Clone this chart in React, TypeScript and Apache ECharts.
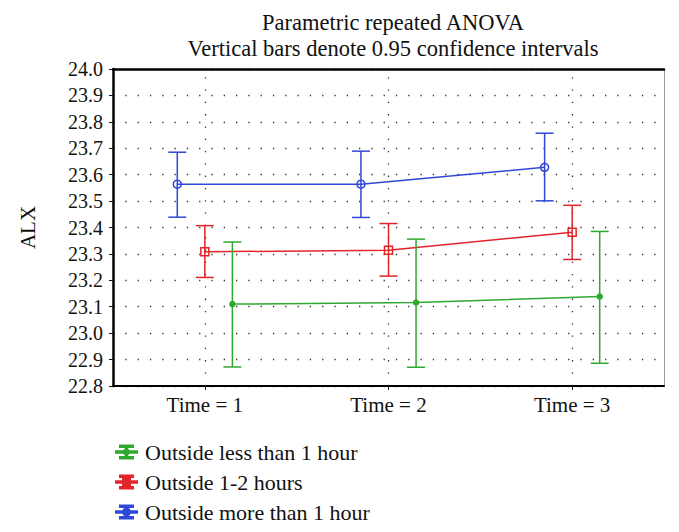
import React, { useEffect, useRef } from "react";
import * as echarts from "echarts";

const timeLabels = ["Time = 1", "Time = 2", "Time = 3"];

const seriesNames = [
  "Outside less than 1 hour",
  "Outside 1-2 hours",
  "Outside more than 1 hour",
];

const lessMean = [23.11, 23.116, 23.139];
const lessLow = [22.872, 22.871, 22.886];
const lessHigh = [23.345, 23.356, 23.385];

const midMean = [23.308, 23.314, 23.382];
const midLow = [23.211, 23.216, 23.279];
const midHigh = [23.407, 23.415, 23.484];

const moreMean = [23.564, 23.564, 23.628];
const moreLow = [23.439, 23.438, 23.501];
const moreHigh = [23.685, 23.689, 23.757];

const FONT = "Liberation Serif, serif";
const colors = ["#2ea82e", "#e3242b", "#3048d8"];
const offsets = [0.15, 0, -0.15];
const symbols = ["circle", "rect", "circle"];
const symbolSizes = [5, 8, 8];
const symbolFill = [true, false, false];

const bars = "M4 0H17V1.4H4Z M4 11.6H17V13H4Z M9.8 0H11.2V13H9.8Z M0 5.8H21V7.2H0Z";
const icons = [
  "path://" + bars + " M8 6.5A2.5 2.5 0 1 1 13 6.5A2.5 2.5 0 1 1 8 6.5Z",
  "path://" + bars + " M7 3H14V10H7Z M8.3 4.3V8.7H12.7V4.3Z",
  "path://" + bars + " M7 6.5A3.5 3.5 0 1 1 14 6.5A3.5 3.5 0 1 1 7 6.5Z M8.3 6.5A2.2 2.2 0 1 0 12.7 6.5A2.2 2.2 0 1 0 8.3 6.5Z",
];

export default function App() {
  const ref = useRef<HTMLDivElement>(null);
  useEffect(() => {
    if (!ref.current) return;
    const chart = echarts.init(ref.current, undefined, { renderer: "svg" });
    const means = [lessMean, midMean, moreMean];
    const lows = [lessLow, midLow, moreLow];
    const highs = [lessHigh, midHigh, moreHigh];

    const lineSeries: any[] = seriesNames.map((name, s) => ({
      name,
      type: "line",
      xAxisIndex: 1,
      yAxisIndex: 0,
      data: means[s].map((v, i) => [i + offsets[s], v]),
      symbol: symbols[s],
      symbolSize: symbolSizes[s],
      showSymbol: true,
      itemStyle: {
        color: symbolFill[s] ? colors[s] : "rgba(255,255,255,0)",
        borderColor: colors[s],
        borderWidth: 1.5,
      },
      lineStyle: { color: colors[s], width: 1.5 },
      z: 3,
      ...(s === 0
        ? {
            markLine: {
              silent: true,
              symbol: "none",
              label: { show: false },
              lineStyle: { color: "#333", width: 1.3, type: [1.3, 11] },
              data: timeLabels.map((_, i) => ({ xAxis: i })),
              z: 1,
            },
          }
        : {}),
    }));

    const errSeries: any[] = seriesNames.map((name, s) => ({
      name,
      type: "custom",
      xAxisIndex: 1,
      yAxisIndex: 0,
      data: means[s].map((_, i) => [i + offsets[s], lows[s][i], highs[s][i]]),
      z: 4,
      renderItem: (params: any, api: any) => {
        const x = api.value(0);
        const top = api.coord([x, api.value(2)]);
        const bot = api.coord([x, api.value(1)]);
        const st = { stroke: colors[s], lineWidth: 1.5 };
        return {
          type: "group",
          children: [
            { type: "line", shape: { x1: top[0], y1: top[1], x2: bot[0], y2: bot[1] }, style: st },
            { type: "line", shape: { x1: top[0] - 9, y1: top[1], x2: top[0] + 9, y2: top[1] }, style: st },
            { type: "line", shape: { x1: bot[0] - 9, y1: bot[1], x2: bot[0] + 9, y2: bot[1] }, style: st },
          ],
        };
      },
    }));

    chart.setOption({
      animation: false,
      backgroundColor: "#fff",
      textStyle: { fontFamily: FONT },
      title: {
        text: "Parametric repeated ANOVA\nVertical bars denote 0.95 confidence intervals",
        left: 388,
        top: 4,
        textAlign: "center",
        textStyle: {
          fontFamily: FONT,
          fontSize: 22.5,
          fontWeight: "normal",
          color: "#111",
          lineHeight: 26,
        },
      },
      legend: {
        orient: "vertical",
        left: 110,
        top: 436,
        itemWidth: 21,
        itemHeight: 13,
        itemGap: 8,
        textStyle: { fontFamily: FONT, fontSize: 22, color: "#111", padding: [0, 0, 0, 3] },
        data: seriesNames.map((name, s) => ({ name, icon: icons[s], itemStyle: { color: colors[s] } })),
      },
      grid: {
        left: 113,
        right: 15,
        top: 69,
        bottom: 146,
        show: false,
      },
      xAxis: [
        {
          type: "category",
          data: timeLabels,
          boundaryGap: true,
          axisLine: { onZero: false, lineStyle: { color: "#000", width: 2 } },
          axisTick: { show: true, alignWithLabel: true, length: 4, lineStyle: { color: "#111" } },
          axisLabel: { fontFamily: FONT, fontSize: 21, color: "#111", margin: 8 },
          splitLine: { show: false },
        },
        {
          type: "value",
          position: "top",
          min: -0.5,
          max: 2.5,
          axisLine: { show: true, onZero: false, lineStyle: { color: "#000", width: 2.5 } },
          axisTick: { show: false },
          axisLabel: { show: false },
          splitLine: { show: false },
        },
      ],
      yAxis: [
        {
          type: "value",
          min: 22.8,
          max: 24.0,
          interval: 0.1,
          name: "ALX",
          nameLocation: "middle",
          nameGap: 75,
          nameTextStyle: { fontFamily: FONT, fontSize: 21, color: "#111" },
          axisLine: { show: true, onZero: false, lineStyle: { color: "#000", width: 2.5 } },
          axisTick: { show: true, length: 4, lineStyle: { color: "#111" } },
          axisLabel: {
            fontFamily: FONT,
            fontSize: 20,
            color: "#111",
            margin: 10,
            formatter: (v: number) => v.toFixed(1),
          },
          splitLine: { show: true, lineStyle: { color: "#333", width: 1.3, type: [1.3, 11] } },
        },
        {
          type: "value",
          position: "right",
          min: 22.8,
          max: 24.0,
          interval: 0.1,
          axisLine: { show: true, onZero: false, lineStyle: { color: "#999", width: 1 } },
          axisTick: { show: false },
          axisLabel: { show: false },
          splitLine: { show: false },
        },
      ],
      series: [...lineSeries, ...errSeries],
    });
    return () => chart.dispose();
  }, []);
  return <div ref={ref} style={{ width: 679, height: 532, margin: -8 }} />;
}
